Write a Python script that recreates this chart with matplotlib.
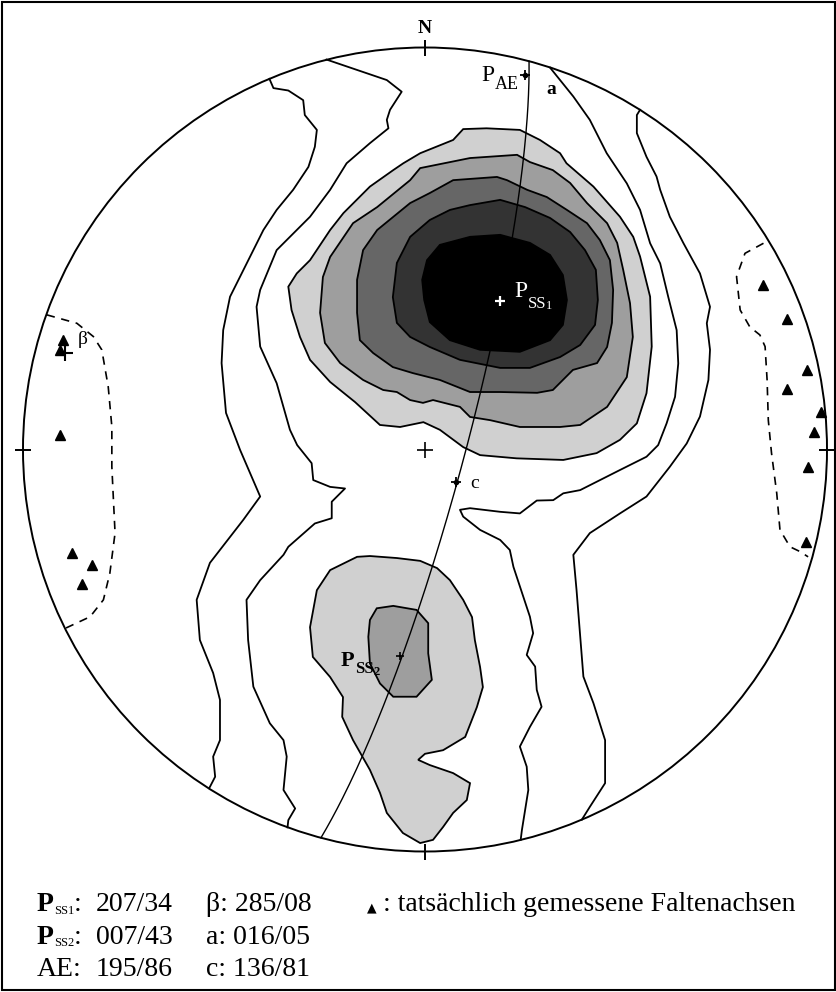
import numpy as np
import matplotlib
matplotlib.use("Agg")
import matplotlib.pyplot as plt
from matplotlib.transforms import IdentityTransform

# Orientations from the legend: planes as dip direction/dip, lines as trend/plunge
SS1_PLANE = (207, 34)
SS2_PLANE = (7, 43)
AE_PLANE = (195, 86)
BETA_AXIS = (285, 8)
A_AXIS = (16, 5)
C_AXIS = (136, 81)

# Measured fold axes, equal-area net coordinates (x = east, y = north, primitive = 1)
FOLD_AXES_X = [-0.900, -0.908, -0.908, -0.879, -0.829, -0.854,
               0.842, 0.900, 0.950, 0.900, 0.984, 0.968, 0.953, 0.948]
FOLD_AXES_Y = [0.272, 0.248, 0.036, -0.258, -0.287, -0.335,
               0.409, 0.325, 0.198, 0.150, 0.093, 0.044, -0.043, -0.229]

# Open contour lines (lowest levels)
LEVEL1_WEST = [(-0.387, 0.922), (-0.377, 0.899), (-0.340, 0.893), (-0.303, 0.869), (-0.299, 0.832),
               (-0.269, 0.795), (-0.274, 0.753), (-0.290, 0.703), (-0.328, 0.646), (-0.369, 0.596),
               (-0.402, 0.546), (-0.435, 0.480), (-0.485, 0.380), (-0.502, 0.297), (-0.506, 0.215),
               (-0.495, 0.091), (-0.460, -0.001), (-0.410, -0.117), (-0.452, -0.175), (-0.535, -0.282),
               (-0.568, -0.374), (-0.560, -0.474), (-0.527, -0.556), (-0.510, -0.623), (-0.510, -0.723),
               (-0.527, -0.764), (-0.522, -0.814), (-0.537, -0.843)]
LEVEL2_WEST = [(-0.245, 0.970), (-0.095, 0.919), (-0.058, 0.890), (-0.087, 0.845), (-0.095, 0.820),
               (-0.091, 0.799), (-0.137, 0.762), (-0.195, 0.712), (-0.236, 0.646), (-0.286, 0.579),
               (-0.369, 0.496), (-0.410, 0.397), (-0.419, 0.355), (-0.410, 0.256), (-0.369, 0.165),
               (-0.336, 0.049), (-0.318, 0.011), (-0.282, -0.034), (-0.278, -0.076), (-0.236, -0.093),
               (-0.199, -0.097), (-0.232, -0.130), (-0.232, -0.171), (-0.274, -0.184), (-0.340, -0.242),
               (-0.352, -0.262), (-0.410, -0.325), (-0.444, -0.374), (-0.440, -0.474), (-0.427, -0.590),
               (-0.386, -0.681), (-0.352, -0.723), (-0.344, -0.764), (-0.352, -0.847), (-0.323, -0.893),
               (-0.340, -0.922), (-0.342, -0.940)]
LEVEL2_EAST = [(0.311, 0.950), (0.369, 0.878), (0.410, 0.820), (0.452, 0.737), (0.502, 0.662),
               (0.535, 0.596), (0.560, 0.513), (0.585, 0.463), (0.605, 0.380), (0.626, 0.297),
               (0.630, 0.214), (0.622, 0.131), (0.601, 0.065), (0.580, 0.011), (0.551, -0.018),
               (0.485, -0.051), (0.386, -0.101), (0.344, -0.109), (0.319, -0.126), (0.278, -0.127),
               (0.236, -0.159), (0.187, -0.155), (0.112, -0.146), (0.087, -0.150), (0.095, -0.167),
               (0.137, -0.200), (0.187, -0.225), (0.211, -0.250), (0.220, -0.292), (0.261, -0.416),
               (0.269, -0.457), (0.253, -0.511), (0.274, -0.540), (0.278, -0.598), (0.290, -0.640),
               (0.261, -0.690), (0.236, -0.739), (0.253, -0.789), (0.257, -0.847), (0.241, -0.947),
               (0.238, -0.971)]
LEVEL1_EAST = [(0.535, 0.845), (0.527, 0.832), (0.527, 0.787), (0.551, 0.728), (0.576, 0.679),
               (0.585, 0.646), (0.609, 0.579), (0.643, 0.513), (0.684, 0.438), (0.709, 0.355),
               (0.701, 0.314), (0.709, 0.248), (0.705, 0.173), (0.684, 0.082), (0.651, 0.015),
               (0.609, -0.043), (0.551, -0.117), (0.485, -0.159), (0.410, -0.208), (0.369, -0.262),
               (0.377, -0.350), (0.394, -0.565), (0.419, -0.631), (0.448, -0.723), (0.448, -0.830),
               (0.410, -0.889), (0.390, -0.921)]

# Lowest (dashed) contour around the measured fold axes
DASHED_WEST = [(-0.941, 0.335), (-0.866, 0.314), (-0.825, 0.281), (-0.804, 0.248), (-0.788, 0.156),
               (-0.779, 0.057), (-0.779, -0.043), (-0.775, -0.126), (-0.771, -0.208), (-0.784, -0.308),
               (-0.800, -0.374), (-0.833, -0.416), (-0.893, -0.444)]
DASHED_EAST = [(0.842, 0.513), (0.796, 0.488), (0.775, 0.430), (0.784, 0.347), (0.808, 0.305),
               (0.833, 0.285), (0.846, 0.256), (0.851, 0.173), (0.854, 0.073), (0.862, -0.009),
               (0.875, -0.109), (0.883, -0.200), (0.908, -0.242), (0.933, -0.254), (0.953, -0.267)]

# Closed, shaded contours of the main maximum (around P_SS1)
MAX1_LEVEL3 = [(-0.012, 0.737), (0.070, 0.770), (0.095, 0.797), (0.153, 0.799), (0.236, 0.795),
               (0.286, 0.770), (0.336, 0.737), (0.352, 0.712), (0.419, 0.654), (0.485, 0.579),
               (0.518, 0.529), (0.535, 0.480), (0.560, 0.380), (0.564, 0.256), (0.551, 0.140),
               (0.527, 0.065), (0.485, 0.024), (0.427, -0.009), (0.344, -0.026), (0.228, -0.022),
               (0.137, -0.014), (0.095, 0.006), (0.037, 0.049), (-0.004, 0.068), (-0.062, 0.056),
               (-0.112, 0.061), (-0.174, 0.118), (-0.236, 0.168), (-0.286, 0.223), (-0.311, 0.280),
               (-0.332, 0.347), (-0.340, 0.405), (-0.319, 0.438), (-0.286, 0.471), (-0.236, 0.546),
               (-0.203, 0.588), (-0.137, 0.654), (-0.079, 0.695), (-0.054, 0.712)]
MAX1_LEVEL4 = [(-0.012, 0.700), (0.112, 0.725), (0.229, 0.733), (0.261, 0.715), (0.318, 0.695),
               (0.361, 0.663), (0.403, 0.613), (0.453, 0.563), (0.478, 0.514), (0.493, 0.447),
               (0.510, 0.364), (0.517, 0.280), (0.502, 0.180), (0.453, 0.106), (0.386, 0.061),
               (0.336, 0.056), (0.236, 0.056), (0.162, 0.073), (0.112, 0.081), (0.087, 0.106),
               (0.020, 0.123), (-0.005, 0.116), (-0.037, 0.123), (-0.070, 0.143), (-0.104, 0.148),
               (-0.154, 0.173), (-0.211, 0.215), (-0.249, 0.265), (-0.261, 0.340), (-0.254, 0.429),
               (-0.236, 0.479), (-0.179, 0.563), (-0.119, 0.603), (-0.037, 0.670)]
MAX1_LEVEL5 = [(0.070, 0.670), (0.179, 0.678), (0.204, 0.670), (0.254, 0.646), (0.303, 0.628),
               (0.353, 0.596), (0.403, 0.563), (0.435, 0.521), (0.460, 0.471), (0.468, 0.397),
               (0.465, 0.315), (0.453, 0.255), (0.428, 0.215), (0.368, 0.198), (0.343, 0.173),
               (0.318, 0.148), (0.279, 0.141), (0.187, 0.143), (0.112, 0.143), (0.037, 0.173),
               (-0.030, 0.190), (-0.080, 0.205), (-0.129, 0.240), (-0.162, 0.272), (-0.169, 0.340),
               (-0.169, 0.422), (-0.154, 0.496), (-0.119, 0.546), (-0.037, 0.613), (0.012, 0.638)]
MAX1_LEVEL6 = [(0.062, 0.596), (0.112, 0.608), (0.187, 0.621), (0.249, 0.603), (0.311, 0.576),
               (0.361, 0.541), (0.398, 0.496), (0.425, 0.447), (0.430, 0.372), (0.423, 0.310),
               (0.386, 0.260), (0.336, 0.230), (0.261, 0.203), (0.187, 0.203), (0.087, 0.223),
               (0.012, 0.255), (-0.037, 0.280), (-0.070, 0.315), (-0.080, 0.379), (-0.070, 0.464),
               (-0.037, 0.529), (0.012, 0.571)]
MAX1_LEVEL7 = [(0.005, 0.471), (0.037, 0.509), (0.112, 0.529), (0.187, 0.534), (0.261, 0.514),
               (0.311, 0.484), (0.343, 0.434), (0.353, 0.372), (0.343, 0.310), (0.311, 0.272),
               (0.236, 0.243), (0.137, 0.248), (0.062, 0.272), (0.012, 0.317), (-0.002, 0.372),
               (-0.007, 0.422)]

# Secondary maximum (around P_SS2)
MAX2_LEVEL3 = [(-0.169, -0.267), (-0.137, -0.265), (-0.070, -0.270), (-0.012, -0.277), (0.030, -0.295),
               (0.062, -0.325), (0.095, -0.374), (0.117, -0.417), (0.124, -0.474), (0.137, -0.541),
               (0.144, -0.591), (0.129, -0.641), (0.100, -0.715), (0.045, -0.748), (0.000, -0.757),
               (-0.017, -0.772), (0.012, -0.785), (0.070, -0.805), (0.112, -0.830), (0.104, -0.872),
               (0.070, -0.904), (0.045, -0.939), (0.020, -0.971), (-0.012, -0.979), (-0.055, -0.954),
               (-0.095, -0.904), (-0.112, -0.854), (-0.137, -0.797), (-0.179, -0.723), (-0.206, -0.665),
               (-0.204, -0.616), (-0.236, -0.566), (-0.279, -0.516), (-0.286, -0.442), (-0.269, -0.350),
               (-0.236, -0.300)]
MAX2_LEVEL4 = [(-0.137, -0.424), (-0.120, -0.395), (-0.079, -0.389), (-0.021, -0.399), (0.008, -0.432),
               (0.008, -0.507), (0.017, -0.573), (-0.021, -0.615), (-0.079, -0.615), (-0.112, -0.582),
               (-0.137, -0.532), (-0.141, -0.466)]

SHADES = {3: "#d0d0d0", 4: "#9e9e9e", 5: "#666666", 6: "#333333", 7: "#000000"}

plt.rcParams["font.family"] = ["Liberation Serif", "DejaVu Sans"]


def line_vec(trend, plunge):
    t, p = np.radians(trend), np.radians(plunge)
    return np.array([np.cos(p) * np.sin(t), np.cos(p) * np.cos(t), np.sin(p)])


def pole_vec(dip_dir, dip):
    return line_vec(dip_dir + 180, 90 - dip)


# Lambert equal-area projection, lower hemisphere
def project(v):
    v = np.asarray(v, dtype=float)
    if v[2] < 0:
        v = -v
    s = 1 / np.sqrt(1 + v[2])
    return v[0] * s, v[1] * s


def xy(points):
    pts = np.array(points)
    return pts[:, 0], pts[:, 1]


fig = plt.figure(figsize=(8.37, 9.92), dpi=100)
renderer = fig.canvas.get_renderer()
# net centre at pixel (425, 449.5), radius 402 px
ax = fig.add_axes([0, 0, 1, 1])
ax.set_xlim(-425 / 402, 412 / 402)
ax.set_ylim(-542.5 / 402, 449.5 / 402)
ax.axis("off")


# label made of pieces (text, size, drop in px, weight), baseline start at display (x, y)
def piece_label(x, y, parts, ha="left", color="black"):
    texts = []
    for txt, size, drop, weight in parts:
        t = fig.text(0, 0, txt, fontsize=size, fontweight=weight, color=color, va="baseline",
                     transform=IdentityTransform(), zorder=6)
        texts.append((t, t.get_window_extent(renderer).width, drop))
    total = sum(w for _, w, _ in texts)
    cx = x - total if ha == "right" else x
    for t, w, drop in texts:
        t.set_position((cx, y - drop))
        cx += w


def net_label(pt, dx, dy, parts, ha="left", color="black"):
    bx, by = ax.transData.transform(pt)
    piece_label(bx + dx, by + dy, parts, ha=ha, color=color)


# shaded maxima
for poly, lvl in [(MAX1_LEVEL3, 3), (MAX1_LEVEL4, 4), (MAX1_LEVEL5, 5), (MAX1_LEVEL6, 6),
                  (MAX1_LEVEL7, 7), (MAX2_LEVEL3, 3), (MAX2_LEVEL4, 4)]:
    px, py = xy(poly)
    ax.fill(px, py, facecolor=SHADES[lvl], edgecolor="black", lw=1.3, zorder=2)

# open contour lines
for line in [LEVEL1_WEST, LEVEL2_WEST, LEVEL2_EAST, LEVEL1_EAST]:
    px, py = xy(line)
    ax.plot(px, py, color="black", lw=1.3, zorder=2)
for line in [DASHED_WEST, DASHED_EAST]:
    px, py = xy(line)
    ax.plot(px, py, color="black", lw=1.2, ls=(0, (5, 4)), zorder=2)

# primitive circle and ticks
ax.add_patch(plt.Circle((0, 0), 1, fill=False, color="black", lw=1.4, zorder=3))
ax.plot([0, 0], [1, -1], ls="none", marker="|", ms=12, mew=1.4, color="black", zorder=3)
ax.plot([-1, 1], [0, 0], ls="none", marker="_", ms=12, mew=1.4, color="black", zorder=3)
ax.plot(0, 0, marker="+", ms=11, mew=1.2, color="black", zorder=3)
ax.text(0, 1.036, "N", ha="center", va="baseline", fontsize=14, fontweight="bold")

# great circle perpendicular to beta (girdle through P_SS1 and P_SS2)
n = line_vec(*BETA_AXIS)
s = np.cross(n, [0, 0, 1])
s /= np.linalg.norm(s)
d = np.cross(n, s)
d /= np.linalg.norm(d)
if d[2] < 0:
    d = -d
th = np.linspace(0, np.pi, 181)
v = np.outer(np.cos(th), s) + np.outer(np.sin(th), d)
sc = 1 / np.sqrt(1 + v[:, 2])
ax.plot(v[:, 0] * sc, v[:, 1] * sc, color="black", lw=1.0, zorder=3)

# measured fold axes
ax.plot(FOLD_AXES_X, FOLD_AXES_Y, ls="none", marker="^", ms=7, color="black", zorder=4)

# computed points
p_ss1 = project(pole_vec(*SS1_PLANE))
p_ss2 = project(pole_vec(*SS2_PLANE))
p_ae = project(pole_vec(*AE_PLANE))
beta = project(line_vec(*BETA_AXIS))
a_ax = project(line_vec(*A_AXIS))
c_ax = project(line_vec(*C_AXIS))

ax.plot(*p_ss1, marker="+", ms=7, mew=1.6, color="white", zorder=4)
ax.plot(*p_ss2, marker="+", ms=6, mew=1.2, color="black", zorder=4)
for pt in [p_ae, c_ax]:
    ax.plot(*pt, marker="+", ms=7, mew=1.3, color="black", zorder=4)
    ax.plot(*pt, marker="o", ms=3, color="black", zorder=4)
ax.plot(*beta, marker="+", ms=12, mew=1.5, color="black", zorder=4)

net_label(p_ae, -7, -6, [("P", 17, 0, "normal"), ("AE", 13, 8, "normal")], ha="right")
net_label(a_ax, 16, -14, [("a", 14, 0, "bold")])
net_label(c_ax, 14, -6, [("c", 14, 0, "normal")])
net_label(p_ss1, 14, 4, [("P", 17, 0, "normal"), ("SS", 12, 11, "normal"), ("1", 9, 12, "normal")],
          color="white")
net_label(p_ss2, -20, -10, [("P", 16, 0, "bold"), ("SS", 12, 7, "bold"), ("2", 9, 9, "bold")],
          ha="right")
net_label(beta, 13, 9, [("β", 14, 0, "normal")])

# frame
fig.patches.append(plt.Rectangle((0.002, 0.002), 0.996, 0.996, transform=fig.transFigure,
                                 fill=False, edgecolor="black", lw=1.5))

# legend block (pixel rows from the top of the figure)
H = 992
names = ["SS1", "SS2", None]
vals = [SS1_PLANE, SS2_PLANE, AE_PLANE]
axes_txt = [("β", BETA_AXIS), ("a", A_AXIS), ("c", C_AXIS)]
for i in range(3):
    base = H - (911 + 32.5 * i)
    if names[i]:
        piece_label(37, base, [("P", 20, 0, "bold"), (names[i], 9, 3, "normal"), (":", 20, 0, "normal")])
    else:
        piece_label(37, base, [("AE:", 20, 0, "normal")])
    piece_label(96, base, [(f"{vals[i][0]:03d}/{vals[i][1]:02d}", 20, 0, "normal")])
    nm, (tr, pl) = axes_txt[i]
    piece_label(206, base, [(f"{nm}: {tr:03d}/{pl:02d}", 20, 0, "normal")])
fig.text(367 / 837, 1 - 911 / H, "▲", fontsize=9, va="baseline", family="DejaVu Sans")
fig.text(383 / 837, 1 - 911 / H, ": tatsächlich gemessene Faltenachsen", fontsize=20, va="baseline")

fig.savefig("out.png", dpi=100)
